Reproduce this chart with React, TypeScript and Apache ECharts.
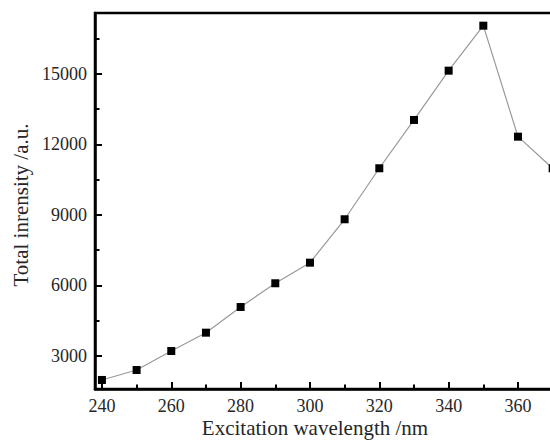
import React, { useEffect, useRef } from "react";
import * as echarts from "echarts";

const wavelengths = [240, 250, 260, 270, 280, 290, 300, 310, 320, 330, 340, 350, 360, 370];
const intensities = [1965, 2390, 3200, 3980, 5075, 6085, 6962, 8812, 10985, 13043, 15143, 17060, 12331, 10985];
const xMajorTicks = [240, 260, 280, 300, 320, 340, 360];
const xMinorTicks = [250, 270, 290, 310, 330, 350, 370];
const yMajorTicks = [3000, 6000, 9000, 12000, 15000];
const yMinorTicks = [4500, 7500, 10500, 13500, 16500];
const xTitle = "Excitation wavelength /nm";
const yTitle = "Total inrensity /a.u.";

const X_MIN = 238;
const X_MAX = 372;
const Y_MIN = 1580;
const Y_MAX = 17600;

const FONT = "Liberation Serif";
const TEXT_COLOR = "#262626";

export default function App() {
  const ref = useRef<HTMLDivElement>(null);

  useEffect(() => {
    if (!ref.current) return;
    const chart = echarts.init(ref.current, undefined, { renderer: "svg" });
    const gridBox = { left: 95, top: 13, width: 464.6, height: 376 };
    const axisLine = { show: true, lineStyle: { color: "#000", width: 2.5 } };
    const labelStyle = {
      show: true,
      margin: 8,
      fontFamily: FONT,
      fontSize: 18,
      color: TEXT_COLOR,
      formatter: (v: number) => String(v),
    };
    chart.setOption({
      animation: false,
      backgroundColor: "#fff",
      textStyle: { fontFamily: FONT },
      grid: [
        { ...gridBox, show: true, borderColor: "#000", borderWidth: 2.5, backgroundColor: "transparent" },
        { ...gridBox, show: false },
      ],
      xAxis: [
        {
          gridIndex: 0,
          type: "value",
          min: X_MIN,
          max: X_MAX,
          position: "bottom",
          axisLine,
          splitLine: { show: false },
          axisTick: {
            show: true,
            inside: true,
            length: 7,
            customValues: xMajorTicks,
            lineStyle: { color: "#000", width: 2 },
          },
          axisLabel: { ...labelStyle, customValues: xMajorTicks },
        },
        {
          gridIndex: 1,
          type: "value",
          min: X_MIN,
          max: X_MAX,
          position: "bottom",
          axisLine: { show: false },
          splitLine: { show: false },
          axisLabel: { show: false },
          axisTick: {
            show: true,
            inside: true,
            length: 4.5,
            customValues: xMinorTicks,
            lineStyle: { color: "#000", width: 2 },
          },
        },
      ],
      yAxis: [
        {
          gridIndex: 0,
          type: "value",
          min: Y_MIN,
          max: Y_MAX,
          position: "left",
          axisLine,
          splitLine: { show: false },
          axisTick: {
            show: true,
            inside: true,
            length: 7,
            customValues: yMajorTicks,
            lineStyle: { color: "#000", width: 2 },
          },
          axisLabel: { ...labelStyle, customValues: yMajorTicks },
        },
        {
          gridIndex: 1,
          type: "value",
          min: Y_MIN,
          max: Y_MAX,
          position: "left",
          axisLine: { show: false },
          splitLine: { show: false },
          axisLabel: { show: false },
          axisTick: {
            show: true,
            inside: true,
            length: 4.5,
            customValues: yMinorTicks,
            lineStyle: { color: "#000", width: 2 },
          },
        },
      ],
      series: [
        {
          type: "line",
          xAxisIndex: 0,
          yAxisIndex: 0,
          data: wavelengths.map((w, i) => [w, intensities[i]]),
          symbol: "rect",
          symbolSize: 8,
          itemStyle: { color: "#000" },
          lineStyle: { color: "#999", width: 1.2 },
          clip: false,
        },
      ],
      graphic: [
        {
          type: "text",
          x: 315,
          y: 428,
          style: {
            text: xTitle,
            fontFamily: FONT,
            fontSize: 21,
            fill: TEXT_COLOR,
            align: "center",
            verticalAlign: "middle",
          },
        },
        {
          type: "text",
          x: 21,
          y: 205,
          rotation: Math.PI / 2,
          style: {
            text: yTitle,
            fontFamily: FONT,
            fontSize: 21,
            fill: TEXT_COLOR,
            align: "center",
            verticalAlign: "middle",
          },
        },
      ],
    });
    return () => chart.dispose();
  }, []);

  return (
    <div style={{ position: "absolute", left: 0, top: 0, width: 550, height: 444, overflow: "hidden" }}>
      <div ref={ref} style={{ width: 570, height: 444 }} />
    </div>
  );
}
